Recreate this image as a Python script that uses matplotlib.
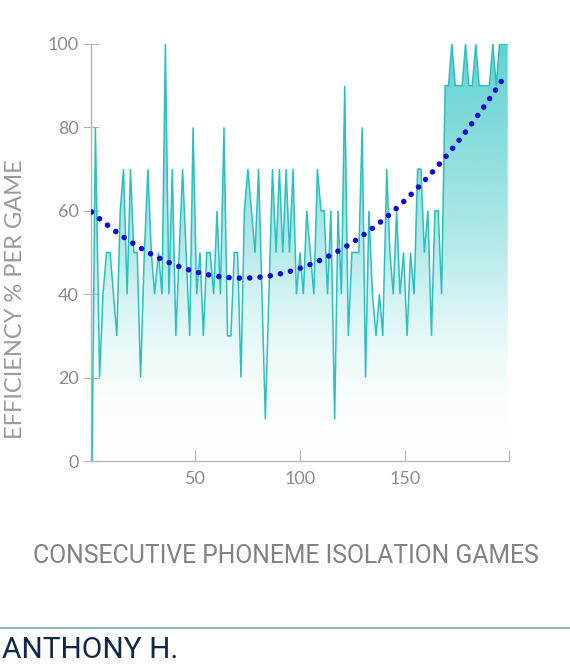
import numpy as np
import matplotlib
matplotlib.use("Agg")
import matplotlib.pyplot as plt
from matplotlib.colors import LinearSegmentedColormap
from matplotlib.lines import Line2D

# ---- data ----
game_pos = [1.0, 2.6, 4.6, 6.2, 7.9, 9.6, 11.2, 12.8, 14.4, 16.0, 17.7, 19.3, 20.9, 22.5,
            24.1, 25.9, 27.6, 29.2, 30.8, 32.6, 34.3, 35.9, 37.6, 39.2, 40.9, 42.5, 44.1,
            45.8, 47.5, 49.1, 50.8, 52.4, 54.0, 55.6, 57.2, 58.9, 60.5, 62.1, 63.8, 65.5,
            67.1, 68.7, 70.3, 71.9, 73.5, 75.2, 76.9, 78.6, 80.3, 81.9, 83.5, 85.2, 86.9,
            88.6, 90.2, 91.8, 93.4, 95.0, 96.7, 98.3, 100.0, 101.6, 103.2, 104.9, 106.6,
            108.3, 110.0, 111.5, 113.1, 114.7, 116.5, 118.1, 119.7, 121.3, 123.0, 124.7,
            126.3, 128.0, 129.6, 131.2, 132.8, 134.5, 136.2, 137.8, 139.4, 141.3, 142.8,
            144.4, 146.0, 147.6, 149.3, 151.0, 152.6, 154.3, 156.0, 157.6, 159.2, 160.9,
            162.6, 164.2, 165.8, 167.4, 169.1, 170.7, 172.3, 173.9, 175.6, 177.2, 178.8,
            180.4, 182.0, 183.7, 185.3, 186.9, 188.6, 190.2, 191.8, 193.4, 195.0, 196.9,
            198.9]
efficiency = [0, 80, 20, 40, 50, 50, 40, 30, 60, 70, 40, 70, 50, 50,
              20, 50, 70, 50, 40, 50, 40, 100, 40, 70, 30, 50, 70,
              50, 30, 80, 40, 50, 30, 50, 50, 40, 60, 40, 80, 30,
              30, 50, 50, 20, 60, 70, 60, 50, 70, 40, 10, 40, 70,
              50, 70, 50, 70, 50, 70, 40, 50, 40, 60, 50, 40,
              70, 60, 60, 40, 60, 10, 60, 40, 90, 30, 50,
              50, 50, 80, 20, 60, 40, 30, 40, 30, 70, 50,
              40, 60, 40, 50, 30, 50, 40, 70, 70, 50, 60,
              30, 60, 60, 40, 90, 90, 100, 90, 90, 90, 100,
              90, 90, 100, 90, 90, 90, 90, 100, 90, 100, 100,
              100]
# points
trend_x = [0.8, 18.7, 37.8, 64.6, 70.2, 86.8, 102.9, 117.9, 131.9, 148.9, 167.5, 184.6, 197.3]
trend_y = [59.5, 53.0, 47.4, 44.2, 44.0, 44.6, 46.8, 50.2, 54.6, 61.7, 71.9, 83.0, 92.2]
x_ticks = [50, 100, 150]
y_ticks = [0, 20, 40, 60, 80, 100]

x = np.array(game_pos)
y = np.array(efficiency, dtype=float)

# ---- figure ----
W, H = 570, 671
fig = plt.figure(figsize=(W / 100, H / 100), dpi=100)
fig.patch.set_facecolor("white")
ax = fig.add_axes([91 / W, 1 - 461 / H, (509 - 91) / W, (461 - 44) / H])

XMIN, XMAX = 0.5, 199.5

# gradient area fill
poly = ax.fill_between(x, y, 0, facecolor="none", edgecolor="none")
path = poly.get_paths()[0]
grad = np.linspace(0, 1, 256).reshape(-1, 1)
cmap = LinearSegmentedColormap.from_list(
    "tealfade", [(1, 1, 1, 0.0), (0.30, 0.80, 0.80, 0.40), (0.33, 0.80, 0.80, 0.92)])
im = ax.imshow(grad, extent=[XMIN, XMAX, 0, 100], origin="lower", aspect="auto",
               cmap=cmap, zorder=1, interpolation="bicubic")
im.set_clip_path(path, transform=ax.transData)

# line
ax.plot(x, y, color="#2cbfc0", lw=1.1, zorder=3, solid_joinstyle="miter")

# quadratic trend through the read trend points
coef = np.polyfit(trend_x, trend_y, 2)
xt = np.linspace(trend_x[0], trend_x[-1], 400)
ax.plot(xt, np.polyval(coef, xt), color="#0b0bd2", lw=4.0,
        linestyle=(0, (0.01, 1.85)), dash_capstyle="round", zorder=4)

ax.set_xlim(XMIN, XMAX)
ax.set_ylim(0, 100)

for s in ["top", "right"]:
    ax.spines[s].set_visible(False)
for s in ["left", "bottom"]:
    ax.spines[s].set_color("#b5b5b5")
    ax.spines[s].set_linewidth(1.0)

ax.set_xticks(x_ticks + [XMAX])
ax.set_xticklabels([str(t) for t in x_ticks] + [""])
ax.set_yticks(y_ticks)
ax.set_yticklabels([str(t) for t in y_ticks])
ax.tick_params(axis="x", direction="in", length=8, color="#b5b5b5", pad=7)
ax.tick_params(axis="y", direction="inout", length=12, color="#b5b5b5", pad=3)
for lab in ax.get_xticklabels() + ax.get_yticklabels():
    lab.set_family(["Lato", "DejaVu Sans"])
    lab.set_fontweight("normal")
    lab.set_fontsize(13)
    lab.set_color("#8c8c8c")

fig.text(16 / W, 1 - 299 / H, "EFFICIENCY % PER GAME", rotation=90,
         ha="center", va="center", fontsize=17, color="#9a9a9a",
         family=["Lato", "DejaVu Sans"], fontweight="normal")
fig.text(285.5 / W, 1 - 556 / H, "CONSECUTIVE PHONEME ISOLATION GAMES",
         ha="center", va="center", fontsize=17.8, color="#808285",
         family=["Roboto", "DejaVu Sans"])

fig.add_artist(Line2D([0, 1], [1 - 628 / H, 1 - 628 / H], transform=fig.transFigure,
                      color="#6e9fa6", lw=1.1))
fig.text(2 / W, 1 - 650 / H, "ANTHONY H.", ha="left", va="center",
         fontsize=21.5, color="#10294a", family=["Roboto", "DejaVu Sans"])

fig.savefig("out.png", dpi=100, facecolor="white")
